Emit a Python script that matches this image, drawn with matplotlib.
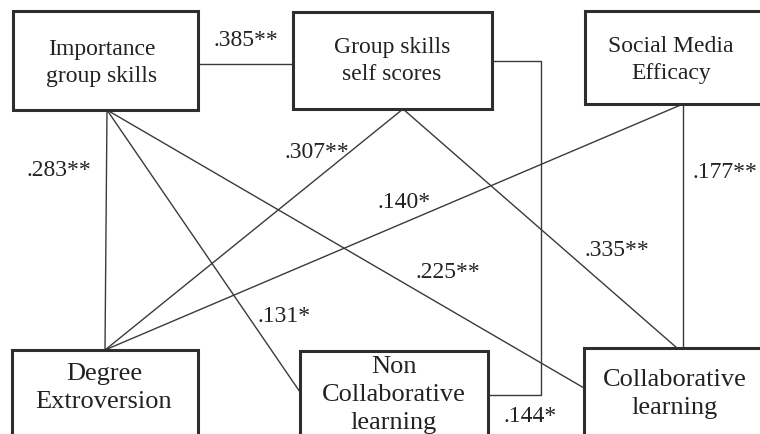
import matplotlib.pyplot as plt
from matplotlib.patches import Rectangle

plt.rcParams['font.family'] = ['Liberation Serif', 'DejaVu Serif']

# variables in the path model
nodes = ["Importance\ngroup skills", "Group skills\nself scores", "Social Media\nEfficacy",
         "Degree\nExtroversion", "Non\nCollaborative\nlearning", "Collaborative\nlearning"]

# correlations between variables (index into nodes)
edge_from = [0, 1, 0, 0, 0, 1, 1, 2, 2]
edge_to = [1, 4, 3, 4, 5, 3, 5, 3, 5]
coefs = [".385**", ".144*", ".283**", ".131*", ".225**", ".307**", ".335**", ".140*", ".177**"]

# layout in pixels (x0, y0, x1, y1), y grows downward
boxes = [(13, 11, 198, 110), (293, 12, 492, 109), (585, 11, 768, 104),
         (12, 350, 198, 450), (300, 351, 488, 450), (584, 348, 768, 450)]
text_pos = [(102, 63), (392, 61), (671, 60), (104, 388), (394, 395), (675, 394)]
font_sizes = [17, 17, 17, 19, 19, 19]

# anchor points of every connecting line
paths = [
    [(198, 64), (293, 64)],
    [(492, 61), (541, 61), (541, 395), (488, 395)],
    [(107, 110), (105, 350)],
    [(107, 110), (300, 392)],
    [(107, 110), (584, 388)],
    [(403, 109), (105, 350)],
    [(403, 109), (677, 348)],
    [(683, 104), (105, 350)],
    [(683, 104), (683, 348)],
]
label_pos = [(246, 40), (530, 416), (59, 170), (284, 316), (448, 272),
             (317, 153), (617, 251), (404, 202), (725, 172)]

fig = plt.figure(figsize=(7.6, 4.34), dpi=100)
ax = fig.add_axes([0, 0, 1, 1])
ax.set_xlim(0, 760)
ax.set_ylim(434, 0)
ax.axis('off')

for i in range(len(coefs)):
    xs = [p[0] for p in paths[i]]
    ys = [p[1] for p in paths[i]]
    ax.plot(xs, ys, color='#3a3a3a', lw=1.0, zorder=1)
    ax.text(label_pos[i][0], label_pos[i][1], coefs[i], fontsize=17,
            ha='center', va='center', color='#222222')

for i, name in enumerate(nodes):
    x0, y0, x1, y1 = boxes[i]
    ax.add_patch(Rectangle((x0, y0), x1 - x0, y1 - y0, facecolor='white',
                           edgecolor='#2e2e2e', lw=2.2, zorder=2))
    ax.text(text_pos[i][0], text_pos[i][1], name, fontsize=font_sizes[i],
            ha='center', va='center', linespacing=1.38, color='#222222', zorder=3)

fig.savefig("out.png", dpi=100)
